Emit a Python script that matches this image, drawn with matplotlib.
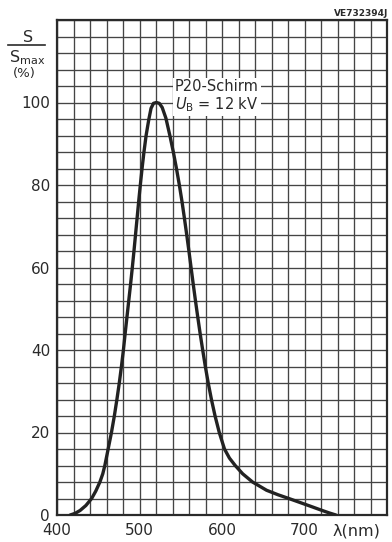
import matplotlib.pyplot as plt
from matplotlib.lines import Line2D

# Spectral distribution of a P20 screen
wavelength_nm = [416, 422, 428, 435, 442, 447, 452, 455.5, 458, 462, 466, 469.5,
                 472.6, 475.5, 478.1, 480.5, 482.6, 484.8, 487.0, 489.2, 491.3, 493.3,
                 495.2, 497.1, 499.0, 501.0, 503.1, 505.4, 508.0, 511.2, 514, 517,
                 520.5, 524, 527.5, 532, 536.8, 541.0, 544.8, 548.3, 551.5, 554.4,
                 557.2, 559.9, 562.5, 565.1, 567.8, 570.6, 573.5, 576.6, 579.8, 583.3,
                 587.2, 591.6, 596.7, 603, 609, 616, 625, 637, 654, 668, 681, 695,
                 709, 720, 730, 738]
rel_sensitivity = [0, 0.4, 1.1, 2.3, 4, 5.8, 8, 10, 12, 16, 20, 24,
                   28, 32, 36, 40, 44, 48, 52, 56, 60, 64,
                   68, 72, 76, 80, 84, 88, 92, 95.8, 98.6, 99.8,
                   100, 99.8, 98.8, 96.2, 92, 88, 84, 80, 76, 72,
                   68, 64, 60, 56, 52, 48, 44, 40, 36, 32,
                   28, 24, 20, 16, 13.8, 12, 10, 8, 6, 4.9, 4, 3,
                   2, 1.2, 0.5, 0]

x_labels = [400, 500, 600, 700]
y_labels = [0, 20, 40, 60, 80, 100]
x_grid = list(range(400, 801, 20))
y_grid = list(range(0, 121, 4))

ink = '#2a2a2a'
plt.rcParams['font.family'] = ['DejaVu Sans']
plt.rcParams['mathtext.fontset'] = 'dejavusans'

fig = plt.figure(figsize=(3.92, 5.42), dpi=100)
ax = fig.add_axes([57 / 392, 1 - 515 / 542, 330 / 392, 495 / 542])

ax.set_xlim(400, 800)
ax.set_ylim(0, 120)
ax.set_xticks(x_labels)
ax.set_xticklabels([str(v) for v in x_labels])
ax.set_xticks(x_grid, minor=True)
ax.set_yticks(y_labels)
ax.set_yticklabels([str(v) for v in y_labels])
ax.set_yticks(y_grid, minor=True)
ax.tick_params(which='both', length=0, labelsize=11, colors=ink)
ax.tick_params(axis='x', pad=6)
ax.tick_params(axis='y', pad=5)
ax.grid(which='both', color='#444444', linewidth=0.95)
for s in ax.spines.values():
    s.set_linewidth(1.6)
    s.set_color(ink)

ax.plot(wavelength_nm, rel_sensitivity, color='#222222', lw=2.4,
        solid_joinstyle='round', solid_capstyle='round', zorder=5)

ax.text(543, 105.8, 'P20-Schirm\n$U_\\mathrm{B}$ = 12 kV', fontsize=10.5,
        color=ink, ha='left', va='top', linespacing=1.1, zorder=6,
        bbox=dict(facecolor='white', edgecolor='none', pad=1.5))

ax.text(0.98, -0.018, 'λ(nm)', transform=ax.transAxes, fontsize=11.5,
        color=ink, ha='right', va='top')

# y axis label drawn as a fraction S / S_max
fig.text(28 / 392, 1 - 37 / 542, 'S', fontsize=11.5, color=ink, ha='center', va='center')
fig.add_artist(Line2D([8 / 392, 45 / 392], [1 - 45 / 542, 1 - 45 / 542],
                      color=ink, lw=1.2))
fig.text(27 / 392, 1 - 58 / 542, '$\\mathrm{S}_\\mathrm{max}$', fontsize=11.5,
         color=ink, ha='center', va='center')
fig.text(24 / 392, 1 - 73 / 542, '(%)', fontsize=9.5, color=ink, ha='center', va='center')

fig.text(388 / 392, 1 - 13 / 542, 'VE732394J', fontsize=6.5, fontweight='bold',
         color=ink, ha='right', va='center')

fig.savefig('out.png', dpi=100, facecolor='white')
